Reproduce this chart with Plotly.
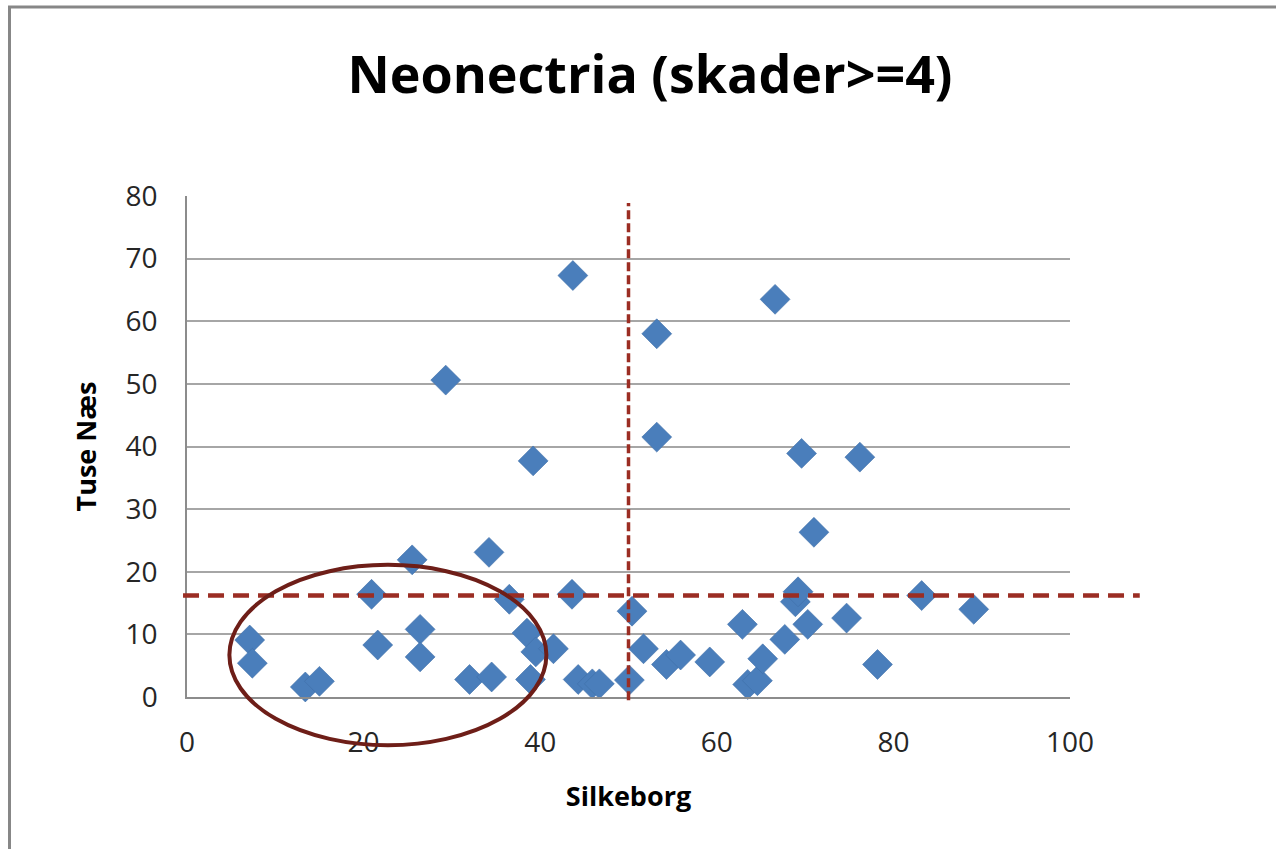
import plotly.graph_objects as go

# ---- data ----
silkeborg = [7.1, 7.4, 13.4, 15.0, 20.9, 21.6, 25.5, 26.4, 26.4, 29.3, 32.0, 34.2,
             34.5, 36.5, 38.5, 38.9, 39.2, 39.5, 41.5, 43.6, 43.7, 44.3, 45.9, 46.7,
             50.1, 50.4, 51.7, 53.2, 53.2, 54.3, 55.9, 59.2, 62.9, 63.5, 64.6, 65.2,
             66.6, 67.7, 68.9, 69.2, 69.6, 70.3, 71.0, 74.7, 76.2, 78.2, 83.2, 89.1]
tuse_naes = [9.1, 5.4, 1.6, 2.5, 16.4, 8.3, 21.9, 10.8, 6.4, 50.6, 2.8, 23.1,
             3.2, 15.6, 10.2, 2.8, 37.7, 7.2, 7.7, 16.4, 67.3, 2.8, 2.1, 2.1,
             2.7, 13.7, 7.7, 58.0, 41.5, 5.2, 6.7, 5.6, 11.6, 2.0, 2.6, 6.1,
             63.5, 9.2, 15.2, 16.8, 38.9, 11.6, 26.3, 12.6, 38.3, 5.2, 16.2, 14.0]

x_ticks = [0, 20, 40, 60, 80, 100]
y_ticks = [0, 10, 20, 30, 40, 50, 60, 70, 80]
X_RANGE = [0, 100]
Y_RANGE = [0, 80]

# reference lines / highlight (data units)
X_THRESHOLD = 50
Y_THRESHOLD = 16.2
V_LINE_SPAN = [-0.5, 78.9]
H_LINE_SPAN = [-0.45, 107.9]
ELLIPSE_X = [4.8, 40.7]
ELLIPSE_Y = [-7.7, 21.1]

title_text = "Neonectria (skader>=4)"
x_title = "Silkeborg"
y_title = "Tuse Næs"


def px(v):
    return (v - X_RANGE[0]) / (X_RANGE[1] - X_RANGE[0])


def py(v):
    return (v - Y_RANGE[0]) / (Y_RANGE[1] - Y_RANGE[0])


FONT = "Open Sans"
W, H = 1276, 849
ML, MR, MT, MB = 187, 206, 195.5, 152.3
PW, PH = W - ML - MR, H - MT - MB

fig = go.Figure()
fig.add_trace(go.Scatter(
    x=silkeborg, y=tuse_naes, mode="markers",
    marker=dict(symbol="diamond", size=23, color="#4A7EBB",
                line=dict(width=0.6, color="#3F6FA8")),
    cliponaxis=False, showlegend=False, hoverinfo="x+y",
))

shapes = [
    # chart border (only top & left visible in reference)
    dict(type="rect", xref="paper", yref="paper",
         x0=(9.5 - ML) / PW, x1=(W + 10 - ML) / PW,
         y0=-(MB + 20) / PH, y1=1 + (MT - 6.5) / PH,
         line=dict(color="#878787", width=3), layer="below"),
    # horizontal dashed threshold
    dict(type="line", xref="paper", yref="paper",
         x0=px(H_LINE_SPAN[0]), x1=px(H_LINE_SPAN[1]),
         y0=py(Y_THRESHOLD), y1=py(Y_THRESHOLD),
         line=dict(color="#9B2D23", width=4.5, dash="16px,9px")),
    # vertical dashed threshold
    dict(type="line", xref="paper", yref="paper",
         x0=px(X_THRESHOLD), x1=px(X_THRESHOLD),
         y0=py(V_LINE_SPAN[0]), y1=py(V_LINE_SPAN[1]),
         line=dict(color="#9B2D23", width=3.5, dash="9px,4px")),
    # highlight ellipse
    dict(type="circle", xref="paper", yref="paper",
         x0=px(ELLIPSE_X[0]), x1=px(ELLIPSE_X[1]),
         y0=py(ELLIPSE_Y[0]), y1=py(ELLIPSE_Y[1]),
         line=dict(color="#6E1E18", width=4)),
]

fig.update_layout(
    width=W, height=H,
    margin=dict(l=ML, r=MR, t=MT, b=MB, pad=0),
    paper_bgcolor="white", plot_bgcolor="white",
    font=dict(family=FONT, color="#262626"),
    title=dict(text="<b>" + title_text + "</b>", x=650 / W, xref="container",
               xanchor="center", y=1 - 75 / H, yref="container", yanchor="middle",
               font=dict(family=FONT, size=52, color="#000000")),
    shapes=shapes,
    xaxis=dict(range=X_RANGE, tickvals=x_ticks, showgrid=False, zeroline=False,
               showline=True, linecolor="#8C8C8C", linewidth=1.5,
               ticks="", tickfont=dict(family=FONT, size=28, color="#262626"),
               ticklabelstandoff=20,
               title=dict(text="<b>" + x_title + "</b>", standoff=28,
                          font=dict(family=FONT, size=27, color="#000000"))),
    yaxis=dict(range=Y_RANGE, tickvals=y_ticks, showgrid=True, gridcolor="#A6A6A6",
               gridwidth=1.5, zeroline=False, showline=True, linecolor="#8C8C8C",
               linewidth=1.5, ticks="", tickfont=dict(family=FONT, size=28, color="#262626"),
               ticklabelstandoff=22,
               title=dict(text="<b>" + y_title + "</b>", standoff=21,
                          font=dict(family=FONT, size=27, color="#000000"))),
)

fig.write_html("out.html", config={"displayModeBar": False},
               post_script="document.body.style.margin='0px';")
